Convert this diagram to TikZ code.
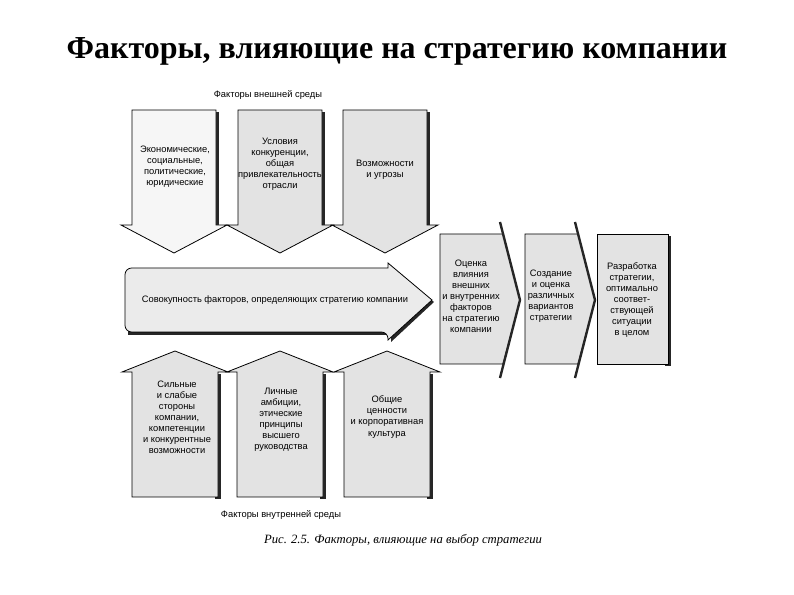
\documentclass[tikz,border=0pt]{standalone}
\usepackage{fontspec}
\setmainfont{Liberation Serif}
\newfontfamily\boxfont{Liberation Sans}

\begin{document}
\begin{tikzpicture}[x=0.75pt,y=-0.75pt,
  panel/.style={draw=black,line width=0.6pt,fill=gray!22},
  lightpanel/.style={panel,fill=gray!7},
  shade/.style={fill=black!85,draw=none},
  txt/.style={align=center,font=\boxfont\fontsize{7}{8.3}\selectfont},
  fold/.style={line width=1.8pt,draw=black!85}]
\useasboundingbox (0,0) rectangle (794,595);
\node[font=\bfseries\fontsize{24}{28}\selectfont] (title) at (397,51) {Факторы, влияющие на стратегию компании};
\node[txt] (ext) at (268,95) {Факторы внешней среды};
% top arrows
\foreach \c/\st in {174/lightpanel,280/panel,385/panel}{
  \fill[shade] (\c+40,112) rectangle (\c+45,225);
  \draw[\st] (\c-42,110) -- (\c+42,110) -- (\c+42,225) -- (\c+53,225) -- (\c,253) -- (\c-53,225) -- (\c-42,225) -- cycle;
}
\node[txt] (econ) at (175,167) {Экономические,\\социальные,\\политические,\\юридические};
\node[txt] (comp) at (280,164) {Условия\\конкуренции,\\общая\\привлекательность\\отрасли};
\node[txt] (opp) at (385,170) {Возможности\\и угрозы};
% middle arrow
\fill[shade] (390,268) -- (434,302) -- (391,342) -- (391,335) -- (128,335) -- (128,331) -- cycle;
\draw[panel,fill=gray!16] (432,300) -- (388,263) -- (388,268) [rounded corners=5] -- (125,268) -- (125,332) -- (388,332) [sharp corners] -- (388,340) -- cycle;
\node[txt] (sum) at (275,300) {Совокупность факторов, определяющих стратегию компании};
% right boxes
\draw[panel] (440,234) -- (503,234) -- (520,300) -- (503,364) -- (440,364) -- cycle;
\draw[fold] (500,222) -- (520,300) -- (500,378);
\draw[panel] (525,234) -- (578,234) -- (595,300) -- (578,364) -- (525,364) -- cycle;
\draw[fold] (575,222) -- (595,300) -- (575,378);
\fill[shade] (665,236) rectangle (671,366);
\draw[panel] (597,234) rectangle (668,364);
\node[txt] (eval) at (471,296) {Оценка\\влияния\\внешних\\и внутренних\\факторов\\на стратегию\\компании};
\node[txt] (alt) at (551,296) {Создание\\и оценка\\различных\\вариантов\\стратегии};
\node[txt] (best) at (632,300) {Разработка\\стратегии,\\оптимально\\соответ-\\ствующей\\ситуации\\в целом};
% bottom arrows
\foreach \c/\st in {175/panel,280/panel,387/panel}{
  \fill[shade] (\c+40,374) rectangle (\c+46,499);
  \draw[\st] (\c-43,497) -- (\c-43,372) -- (\c-53,372) -- (\c,351) -- (\c+53,372) -- (\c+43,372) -- (\c+43,497) -- cycle;
}
\node[txt] (swot) at (177,417) {Сильные\\и слабые\\стороны\\компании,\\компетенции\\и конкурентные\\возможности};
\node[txt] (amb) at (281,420) {Личные\\амбиции,\\этические\\принципы\\высшего\\руководства};
\node[txt] (cult) at (387,417) {Общие\\ценности\\и корпоративная\\культура};
\node[txt] (int) at (281,515) {Факторы внутренней среды};
\node[font=\itshape\fontsize{9.5}{11}\selectfont] (cap) at (403,540) {Рис. 2.5. Факторы, влияющие на выбор стратегии};
\end{tikzpicture}
\end{document}
